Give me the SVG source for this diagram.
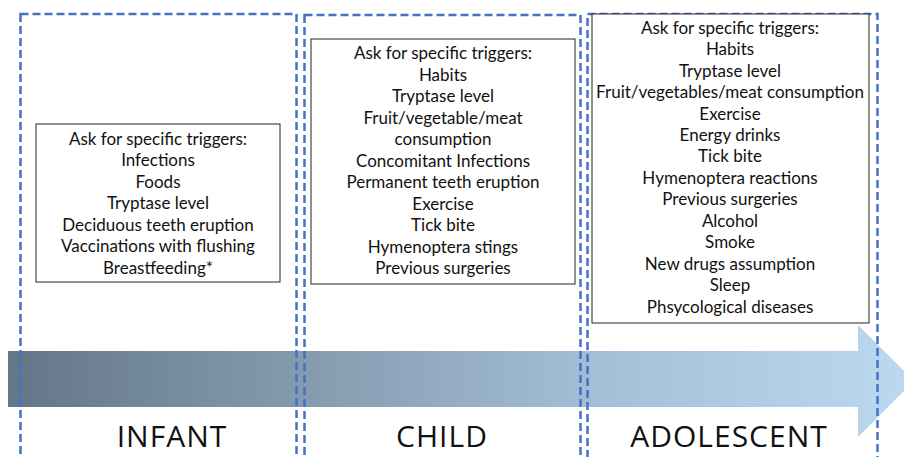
<svg xmlns="http://www.w3.org/2000/svg" width="904" height="457" viewBox="0 0 904 457">
<defs>
<linearGradient id="ag" x1="8" y1="0" x2="904" y2="0" gradientUnits="userSpaceOnUse">
<stop offset="0" stop-color="#637687"/>
<stop offset="0.35" stop-color="#869db1"/>
<stop offset="0.7" stop-color="#a7c3dc"/>
<stop offset="1" stop-color="#bcd8f0"/>
</linearGradient>
<style>
.dash{fill:none;stroke:#4472c4;stroke-width:2.5;stroke-dasharray:8 4}
.box{fill:#fff;stroke:#222;stroke-width:1}
.t{font-family:Lato,"Open Sans",sans-serif;font-size:17px;fill:#111;text-anchor:middle}
.lab{font-family:"Open Sans","DejaVu Sans",sans-serif;font-size:30px;fill:#111;text-anchor:middle;letter-spacing:1px}
</style>
</defs>
<g id="arrow">
<polygon points="8,351 858,351 858,325 914,381 858,437 858,407 8,407" fill="url(#ag)"/>
</g>
<g id="columns">
<rect class="dash" x="20.5" y="14" width="276" height="460"/>
<rect class="dash" x="304.5" y="15" width="276" height="460"/>
<rect class="dash" x="587.5" y="14" width="290" height="460"/>
</g>
<g id="infant">
<rect class="box" x="36" y="124" width="244" height="158"/>
<text class="t" x="158" y="145">Ask for specific triggers:</text>
<text class="t" x="158" y="166">Infections</text>
<text class="t" x="158" y="188">Foods</text>
<text class="t" x="158" y="209">Tryptase level</text>
<text class="t" x="158" y="231">Deciduous teeth eruption</text>
<text class="t" x="158" y="252">Vaccinations with flushing</text>
<text class="t" x="158" y="274">Breastfeeding*</text>
<text class="lab" x="172" y="447">INFANT</text>
</g>
<g id="child">
<rect class="box" x="311" y="39" width="264" height="245"/>
<text class="t" x="443" y="59">Ask for specific triggers:</text>
<text class="t" x="443" y="81">Habits</text>
<text class="t" x="443" y="102">Tryptase level</text>
<text class="t" x="443" y="124">Fruit/vegetable/meat</text>
<text class="t" x="443" y="145">consumption</text>
<text class="t" x="443" y="167">Concomitant Infections</text>
<text class="t" x="443" y="188">Permanent teeth eruption</text>
<text class="t" x="443" y="210">Exercise</text>
<text class="t" x="443" y="231">Tick bite</text>
<text class="t" x="443" y="253">Hymenoptera stings</text>
<text class="t" x="443" y="274">Previous surgeries</text>
<text class="lab" x="442" y="447">CHILD</text>
</g>
<g id="adolescent">
<rect class="box" x="592" y="14" width="277" height="309"/>
<text class="t" x="730" y="34">Ask for specific triggers:</text>
<text class="t" x="730" y="55">Habits</text>
<text class="t" x="730" y="77">Tryptase level</text>
<text class="t" x="730" y="98">Fruit/vegetables/meat consumption</text>
<text class="t" x="730" y="120">Exercise</text>
<text class="t" x="730" y="141">Energy drinks</text>
<text class="t" x="730" y="162">Tick bite</text>
<text class="t" x="730" y="184">Hymenoptera reactions</text>
<text class="t" x="730" y="205">Previous surgeries</text>
<text class="t" x="730" y="227">Alcohol</text>
<text class="t" x="730" y="248">Smoke</text>
<text class="t" x="730" y="270">New drugs assumption</text>
<text class="t" x="730" y="291">Sleep</text>
<text class="t" x="730" y="313">Phsycological diseases</text>
<text class="lab" x="729" y="447">ADOLESCENT</text>
</g>
</svg>
